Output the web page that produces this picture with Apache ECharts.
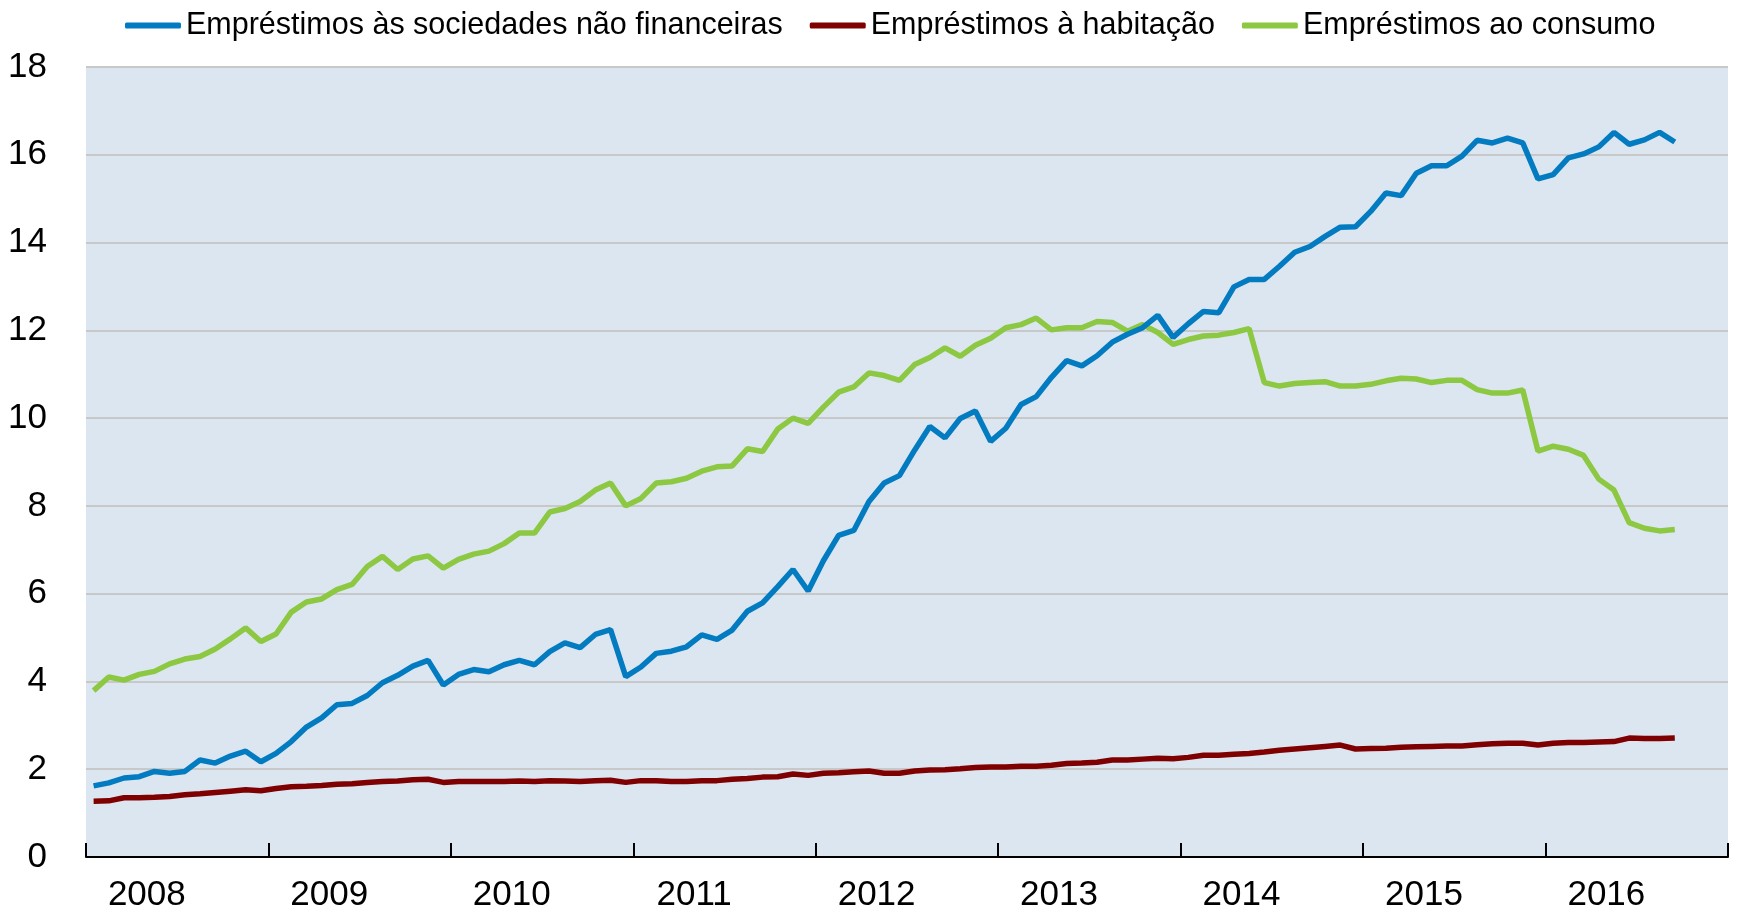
<!DOCTYPE html>
<html>
<head>
<meta charset="utf-8">
<script src="https://cdn.jsdelivr.net/npm/echarts@6/dist/echarts.min.js"></script>
<style>
  html, body { margin: 0; padding: 0; background: #fff; }
  #chart { width: 1737px; height: 915px; }
</style>
</head>
<body>
<div id="chart"></div>
<script>
// monthly data, Jan 2008 .. Sep 2016
var years = ['2008', '2009', '2010', '2011', '2012', '2013', '2014', '2015', '2016'];
var yTicks = [0, 2, 4, 6, 8, 10, 12, 14, 16, 18];

var empresas = [
  1.62, 1.69, 1.80, 1.83, 1.95, 1.91, 1.95, 2.21, 2.14, 2.30, 2.41, 2.17, 2.36, 2.63, 2.96, 3.17, 3.47, 3.50, 3.68, 3.97,
  4.14, 4.35, 4.48, 3.92, 4.16, 4.27, 4.22, 4.38, 4.48, 4.38, 4.68, 4.88, 4.77, 5.07, 5.18, 4.11, 4.33, 4.64,
  4.69, 4.79, 5.06, 4.96, 5.17, 5.60, 5.79, 6.16, 6.55, 6.06, 6.75, 7.33, 7.44, 8.10, 8.52, 8.69, 9.27, 9.81,
  9.55, 9.99, 10.16, 9.47, 9.77, 10.31, 10.49, 10.93, 11.31, 11.19, 11.42, 11.73, 11.91, 12.06, 12.34, 11.84, 12.15, 12.43, 12.40,
  12.99, 13.16, 13.16, 13.46, 13.78, 13.91, 14.14, 14.35, 14.36, 14.71, 15.13, 15.07, 15.58, 15.75, 15.75, 15.97, 16.33,
  16.27, 16.38, 16.27, 15.45, 15.55, 15.93, 16.02, 16.18, 16.51, 16.24, 16.34, 16.51, 16.29
];
var habitacao = [
  1.27, 1.28, 1.35, 1.35, 1.36, 1.38, 1.42, 1.44, 1.47, 1.50, 1.53, 1.51, 1.56, 1.60, 1.61, 1.63, 1.66, 1.67, 1.70, 1.72,
  1.73, 1.76, 1.77, 1.70, 1.72, 1.72, 1.72, 1.72, 1.73, 1.72, 1.74, 1.73, 1.72, 1.74, 1.75, 1.70, 1.74, 1.74,
  1.72, 1.72, 1.74, 1.74, 1.77, 1.79, 1.82, 1.83, 1.89, 1.86, 1.91, 1.92, 1.94, 1.96, 1.91, 1.91, 1.96, 1.98,
  1.99, 2.01, 2.04, 2.05, 2.05, 2.07, 2.07, 2.09, 2.13, 2.14, 2.16, 2.21, 2.21, 2.23, 2.25, 2.24, 2.27, 2.32, 2.32,
  2.34, 2.36, 2.39, 2.43, 2.46, 2.49, 2.52, 2.55, 2.46, 2.47, 2.48, 2.50, 2.51, 2.52, 2.53, 2.53, 2.56,
  2.58, 2.59, 2.59, 2.55, 2.59, 2.61, 2.61, 2.62, 2.63, 2.71, 2.70, 2.70, 2.71
];
var consumo = [
  3.79, 4.10, 4.03, 4.16, 4.23, 4.40, 4.51, 4.57, 4.74, 4.97, 5.22, 4.91, 5.08, 5.58, 5.81, 5.88, 6.09, 6.21, 6.62, 6.85,
  6.55, 6.79, 6.86, 6.58, 6.78, 6.90, 6.97, 7.14, 7.38, 7.38, 7.86, 7.94, 8.10, 8.36, 8.52, 8.00, 8.17, 8.52,
  8.55, 8.63, 8.79, 8.89, 8.91, 9.30, 9.24, 9.75, 10.00, 9.88, 10.25, 10.59, 10.71, 11.03, 10.97, 10.86, 11.22, 11.38,
  11.60, 11.41, 11.66, 11.82, 12.06, 12.13, 12.28, 12.01, 12.06, 12.06, 12.20, 12.18, 11.98, 12.13, 11.95, 11.68, 11.79, 11.87, 11.89,
  11.95, 12.04, 10.81, 10.73, 10.79, 10.81, 10.83, 10.73, 10.73, 10.77, 10.85, 10.91, 10.89, 10.81, 10.86, 10.86, 10.65,
  10.57, 10.57, 10.64, 9.25, 9.36, 9.29, 9.15, 8.61, 8.36, 7.62, 7.49, 7.43, 7.46
];

var seriesNames = ['Empréstimos às sociedades não financeiras', 'Empréstimos à habitação', 'Empréstimos ao consumo'];
var colors = ['#037bc1', '#7f0000', '#8cc841'];

var FONT = "'Liberation Sans', Arial, sans-serif";

// month i is drawn in the middle of its slot on a 0..108 month axis
function toPoints(arr) {
  return arr.map(function (v, i) { return [i + 0.5, v]; });
}

var chart = echarts.init(document.getElementById('chart'));
var option = {
  animation: false,
  textStyle: { fontFamily: FONT },
  legend: {
    left: 120,
    top: 5,
    itemWidth: 56,
    itemHeight: 6,
    itemGap: 27,
    icon: 'roundRect',
    textStyle: { fontFamily: FONT, fontSize: 30.5, color: '#000' },
    data: seriesNames
  },
  grid: {
    left: 86, right: 9, top: 67, bottom: 58,
    show: true,
    backgroundColor: '#dce6f1',
    borderWidth: 0
  },
  xAxis: [
    {
      // year boundaries (ticks)
      type: 'value',
      min: 0, max: years.length * 12, interval: 12,
      axisLine: { show: true, lineStyle: { color: '#000', width: 2 } },
      axisTick: { show: true, inside: true, length: 14, lineStyle: { color: '#000', width: 2 } },
      axisLabel: { show: false },
      splitLine: { show: false }
    },
    {
      // year labels, placed about a third into each year like the original
      type: 'value',
      position: 'bottom',
      min: 0, max: years.length * 12, interval: 4,
      axisLine: { show: false },
      axisTick: { show: false },
      splitLine: { show: false },
      axisLabel: {
        fontFamily: FONT, fontSize: 35, color: '#000', margin: 21,
        showMinLabel: true, showMaxLabel: true,
        formatter: function (v) {
          if (v % 12 === 4) return years[(v - 4) / 12];
          return '';
        }
      }
    }
  ],
  yAxis: {
    type: 'value',
    min: yTicks[0], max: yTicks[yTicks.length - 1], interval: 2,
    axisLine: { show: false },
    axisTick: { show: false },
    axisLabel: { fontFamily: FONT, fontSize: 35, color: '#000', margin: 39 },
    splitLine: { show: true, lineStyle: { color: '#c8c8c8', width: 2 } }
  },
  series: [
    { name: seriesNames[0], type: 'line', xAxisIndex: 0, data: toPoints(empresas), symbol: 'none',
      lineStyle: { width: 5.5, color: colors[0] }, itemStyle: { color: colors[0] }, z: 4 },
    { name: seriesNames[1], type: 'line', xAxisIndex: 0, data: toPoints(habitacao), symbol: 'none',
      lineStyle: { width: 5.5, color: colors[1] }, itemStyle: { color: colors[1] }, z: 3 },
    { name: seriesNames[2], type: 'line', xAxisIndex: 0, data: toPoints(consumo), symbol: 'none',
      lineStyle: { width: 5.5, color: colors[2] }, itemStyle: { color: colors[2] }, z: 2 }
  ]
};
chart.setOption(option);
</script>
</body>
</html>
